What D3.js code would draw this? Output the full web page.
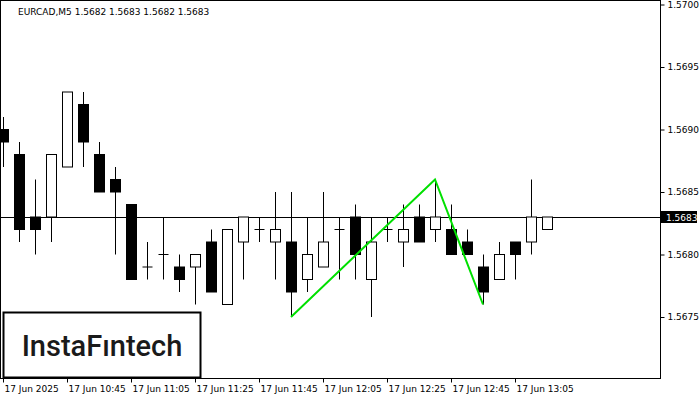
<!DOCTYPE html><html><head><script src="https://d3js.org/d3.v7.min.js"></script>
<style>body{margin:0;background:#fff}svg{font-family:"DejaVu Sans",sans-serif}</style></head><body><svg width="700" height="400"></svg><script>
const open_=[1.5690,1.5688,1.5683,1.5683,1.5687,1.5692,1.5688,1.5686,1.5684,1.5679,1.5680,1.5679,1.5679,1.5681,1.5676,1.5681,1.5682,1.5681,1.5681,1.5678,1.5679,1.5682,1.5683,1.5678,1.5682,1.5681,1.5683,1.5682,1.5682,1.5681,1.5679,1.5678,1.5681,1.5681,1.5682];
const high=[1.5691,1.5689,1.5686,1.5688,1.5693,1.5693,1.5689,1.5687,1.5684,1.5681,1.5683,1.5680,1.5680,1.5682,1.5682,1.5683,1.5683,1.5685,1.5685,1.5683,1.5685,1.5683,1.5684,1.5683,1.5683,1.5684,1.5684,1.5686,1.5684,1.5682,1.5680,1.5681,1.5681,1.5686,1.5683];
const low=[1.5687,1.5681,1.5680,1.5681,1.5687,1.5687,1.5685,1.5680,1.5678,1.5678,1.5678,1.5677,1.5676,1.5677,1.5676,1.5678,1.5681,1.5678,1.5675,1.5677,1.5679,1.5678,1.5678,1.5675,1.5681,1.5679,1.5681,1.5681,1.5680,1.5680,1.5676,1.5678,1.5678,1.5680,1.5682];
const close=[1.5689,1.5682,1.5682,1.5688,1.5693,1.5689,1.5685,1.5685,1.5678,1.5679,1.5680,1.5678,1.5680,1.5677,1.5682,1.5683,1.5682,1.5682,1.5677,1.5680,1.5681,1.5682,1.5680,1.5681,1.5682,1.5682,1.5681,1.5683,1.5680,1.5680,1.5677,1.5680,1.5680,1.5683,1.5683];
const priceTicks=[1.5675,1.5680,1.5685,1.5690,1.5695,1.5700];
const timeLabels=["17 Jun 2025","17 Jun 10:45","17 Jun 11:05","17 Jun 11:25","17 Jun 11:45","17 Jun 12:05","17 Jun 12:25","17 Jun 12:45","17 Jun 13:05"];
const patternIdx=[18,27,30];
const patternPrice=[1.5675,1.5686,1.5676];
const current=1.5683;
const svg=d3.select("svg");
const x=d3.scaleLinear().domain([0,1]).range([3,19]);
const y=d3.scaleLinear().domain([1.5700,1.5680]).range([4.5,254.5]);
const R=660,B=378;
svg.append("rect").attr("x",0.5).attr("y",0.5).attr("width",R).attr("height",B).attr("fill","none").attr("stroke","#000");
const ya=svg.append("g").attr("transform",`translate(${R+0.5},0)`).call(d3.axisRight(y).tickValues(priceTicks).tickFormat(d3.format(".4f")).tickSize(4).tickPadding(3));
ya.select(".domain").remove();ya.selectAll("text").attr("font-size",9).attr("font-family","DejaVu Sans");
const xa=svg.append("g").attr("transform",`translate(0,${B+0.5})`).call(d3.axisBottom(x).tickValues(d3.range(0,35,4)).tickFormat((d,i)=>timeLabels[i]).tickSize(4).tickPadding(3));
xa.select(".domain").remove();xa.selectAll("text").attr("font-size",9).attr("font-family","DejaVu Sans").attr("text-anchor","start").attr("x",1);
svg.append("line").attr("x1",0).attr("x2",R).attr("y1",Math.round(y(current))+0.5).attr("y2",Math.round(y(current))+0.5).attr("stroke","#000");
const g=svg.append("g");
d3.range(open_.length).forEach(i=>{
 const cx=Math.round(x(i))+0.5;
 g.append("line").attr("x1",cx).attr("x2",cx).attr("y1",y(high[i])).attr("y2",y(low[i])).attr("stroke","#000");
 const t=Math.min(y(open_[i]),y(close[i])),b=Math.max(y(open_[i]),y(close[i]));
 if(b-t<1){g.append("line").attr("x1",cx-5).attr("x2",cx+5).attr("y1",t).attr("y2",t).attr("stroke","#000");}
 else g.append("rect").attr("x",cx-5).attr("y",t).attr("width",10).attr("height",b-t).attr("fill",close[i]<open_[i]?"#000":"#fff").attr("stroke","#000");
});
svg.append("path").attr("d",d3.line().x(d=>x(d[0])).y(d=>y(d[1]))(patternIdx.map((d,i)=>[d,patternPrice[i]]))).attr("fill","none").attr("stroke","#00e000").attr("stroke-width",2);
svg.append("rect").attr("x",R+1).attr("y",y(current)-6).attr("width",36).attr("height",12).attr("fill","#000");
svg.append("text").attr("x",R+6).attr("y",y(current)+4).attr("fill","#fff").attr("font-size",9).text(d3.format(".4f")(current));
svg.append("text").attr("x",18).attr("y",15).attr("font-size",9).text("EURCAD,M5  1.5682 1.5683 1.5682 1.5683");
svg.append("rect").attr("x",3.5).attr("y",312.5).attr("width",197).attr("height",65).attr("fill","#fff").attr("stroke","#000").attr("stroke-width",2);
svg.append("text").attr("x",102).attr("y",356).attr("text-anchor","middle").attr("font-size",29).attr("font-weight",500).attr("fill","#1a1a1a").attr("font-family","Roboto, sans-serif").text("InstaFıntech");
</script></body></html>
